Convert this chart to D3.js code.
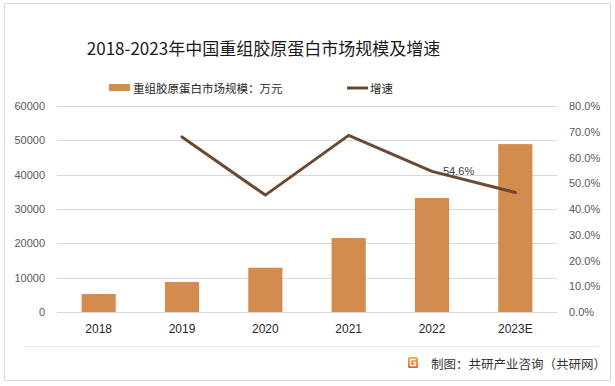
<!DOCTYPE html>
<html>
<head>
<meta charset="utf-8">
<script src="https://cdn.jsdelivr.net/npm/d3@7"></script>
<style>
  html, body { margin: 0; padding: 0; background: #fff; }
  svg { display: block; }
  text { font-family: "Noto Sans CJK SC", "Noto Sans", sans-serif; }
</style>
</head>
<body>
<svg id="chart" width="615" height="386"></svg>
<script>
const categories = ["2018", "2019", "2020", "2021", "2022", "2023E"];
const marketSize = [5250, 8750, 12900, 21550, 33200, 48900];
const growthRate = [null, 68.0, 45.4, 68.6, 54.6, 46.4];
const leftTicks = [0, 10000, 20000, 30000, 40000, 50000, 60000];
const rightTicks = [0, 10, 20, 30, 40, 50, 60, 70, 80];
const labelledPoints = ["2022"];
const titleText = "2018-2023年中国重组胶原蛋白市场规模及增速";
const barLegend = "重组胶原蛋白市场规模：万元";
const lineLegend = "增速";
const footerText = "制图：共研产业咨询（共研网）";

const barColor = "#D38B4E";
const lineColor = "#6B4A33";
const gridColor = "#D9D9D9";
const tickColor = "#595959";

const svg = d3.select("#chart");

// outer border
svg.append("rect").attr("x", 4.5).attr("y", 3.5).attr("width", 606).attr("height", 377)
  .attr("fill", "#fff").attr("stroke", "#D9D9D9").attr("stroke-width", 1);

const plot = { left: 57, right: 557, top: 106, bottom: 312 };

const x = d3.scaleBand().domain(categories).range([plot.left, plot.right])
  .paddingInner(0.59).paddingOuter(0.295);
const yL = d3.scaleLinear().domain([0, 60000]).range([plot.bottom, plot.top]);
const yR = d3.scaleLinear().domain([0, 80]).range([plot.bottom, plot.top]);

// gridlines
svg.append("g").selectAll("line").data(leftTicks).join("line")
  .attr("x1", plot.left).attr("x2", plot.right)
  .attr("y1", d => Math.round(yL(d)) + 0.5).attr("y2", d => Math.round(yL(d)) + 0.5)
  .attr("stroke", gridColor).attr("stroke-width", 1);

// left axis
const axL = svg.append("g").attr("transform", `translate(${plot.left},0)`)
  .call(d3.axisLeft(yL).tickValues(leftTicks).tickSize(0).tickPadding(12).tickFormat(d3.format("d")));
axL.select(".domain").remove();
axL.selectAll("text").attr("fill", tickColor).style("font-size", "11px")
  .style("font-family", "'Liberation Sans', Arial, sans-serif");

// right axis
const axR = svg.append("g").attr("transform", `translate(${plot.right},0)`)
  .call(d3.axisRight(yR).tickValues(rightTicks).tickSize(0).tickPadding(12).tickFormat(d => d.toFixed(1) + "%"));
axR.select(".domain").remove();
axR.selectAll("text").attr("fill", tickColor).style("font-size", "11px")
  .style("font-family", "'Liberation Sans', Arial, sans-serif");

// bars
svg.append("g").selectAll("rect").data(categories).join("rect")
  .attr("x", d => x(d)).attr("width", x.bandwidth())
  .attr("y", (d, i) => yL(marketSize[i]))
  .attr("height", (d, i) => yL(0) - yL(marketSize[i]))
  .attr("fill", barColor);

// x axis
const axX = svg.append("g").attr("transform", `translate(0,${plot.bottom})`)
  .call(d3.axisBottom(x).tickSize(0).tickPadding(12));
axX.select(".domain").attr("stroke", gridColor).attr("d", `M${plot.left},0.5H${plot.right}`);
axX.selectAll("text").attr("fill", "#262626").style("font-size", "12px")
  .style("font-family", "'Liberation Sans', Arial, sans-serif");

// line
const lineData = categories.map((c, i) => ({ c, v: growthRate[i] })).filter(d => d.v != null);
const line = d3.line().x(d => x(d.c) + x.bandwidth() / 2).y(d => yR(d.v));
svg.append("path").datum(lineData).attr("d", line)
  .attr("fill", "none").attr("stroke", lineColor).attr("stroke-width", 3)
  .attr("stroke-linejoin", "round").attr("stroke-linecap", "round");

// data label
svg.append("g").selectAll("text").data(lineData.filter(d => labelledPoints.includes(d.c))).join("text")
  .attr("x", d => x(d.c) + x.bandwidth() / 2 + 11)
  .attr("y", d => yR(d.v))
  .attr("dy", "0.35em")
  .attr("fill", "#404040").style("font-size", "11px")
  .style("font-family", "'Liberation Sans', Arial, sans-serif")
  .text(d => d.v.toFixed(1) + "%");

// title
svg.append("text").attr("x", 263.5).attr("y", 47).attr("text-anchor", "middle")
  .attr("dominant-baseline", "central")
  .attr("fill", "#1a1a1a").style("font-size", "17px").text(titleText);

// legend
svg.append("rect").attr("x", 109).attr("y", 84).attr("width", 21).attr("height", 7).attr("fill", barColor);
svg.append("text").attr("x", 133).attr("y", 88).attr("dominant-baseline", "central")
  .attr("fill", "#262626").style("font-size", "11.5px").text(barLegend);
svg.append("line").attr("x1", 347).attr("x2", 368).attr("y1", 88).attr("y2", 88)
  .attr("stroke", lineColor).attr("stroke-width", 3);
svg.append("text").attr("x", 370).attr("y", 88).attr("dominant-baseline", "central")
  .attr("fill", "#262626").style("font-size", "11.5px").text(lineLegend);

// footer separator
svg.append("line").attr("x1", 25).attr("x2", 598).attr("y1", 346.5).attr("y2", 346.5)
  .attr("stroke", "#E6E6E6").attr("stroke-width", 1);

// footer logo
const defs = svg.append("defs");
const grad = defs.append("linearGradient").attr("id", "logoGrad").attr("x1", 0).attr("y1", 0).attr("x2", 0).attr("y2", 1);
grad.append("stop").attr("offset", "0%").attr("stop-color", "#F9B04A");
grad.append("stop").attr("offset", "100%").attr("stop-color", "#EC5B2C");
svg.append("rect").attr("x", 408).attr("y", 357).attr("width", 10).attr("height", 11).attr("rx", 1.5)
  .attr("fill", "url(#logoGrad)");
svg.append("path").attr("d", "M415.5,359.5 H410.5 V365.5 H415.5 V362.5 H413")
  .attr("fill", "none").attr("stroke", "#fff").attr("stroke-width", 1.4);

svg.append("text").attr("x", 431).attr("y", 363).attr("dominant-baseline", "central")
  .attr("fill", "#333").style("font-size", "12.5px").text(footerText);
</script>
</body>
</html>
